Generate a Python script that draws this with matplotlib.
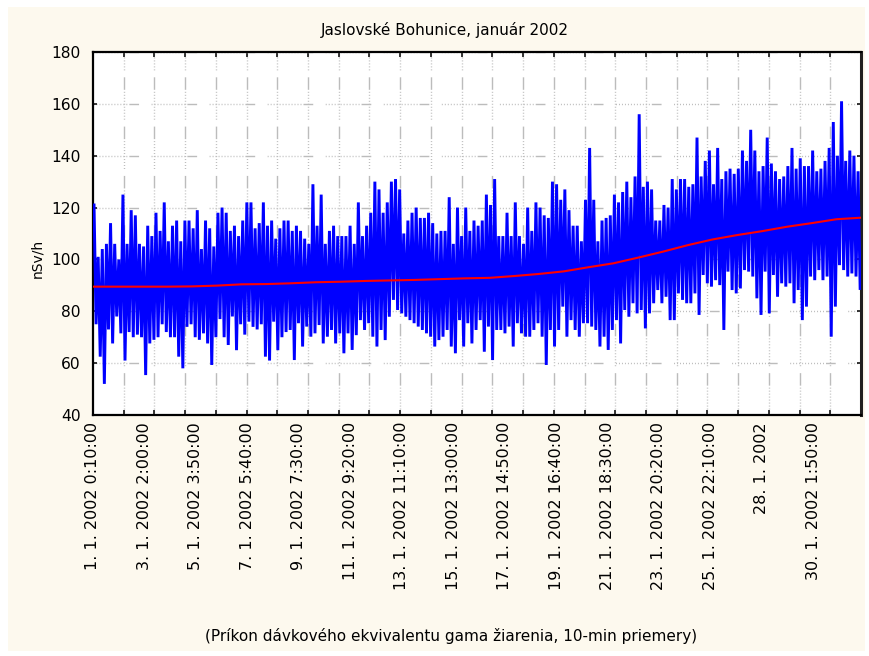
import numpy as np
import matplotlib
matplotlib.use("Agg")
import matplotlib.pyplot as plt
from matplotlib.patches import Rectangle

TITLE = "Jaslovské Bohunice, január 2002"
XLABEL = "(Príkon dávkového ekvivalentu gama žiarenia, 10-min priemery)"
YLABEL = "nSv/h"

upper = [
    121, 101, 104, 106, 114, 106, 100, 125, 106, 119, 117, 106, 105, 113, 109, 118,
    111, 122, 107, 113, 115, 107, 115, 115, 112, 119, 104, 115, 112, 105, 118, 120,
    118, 111, 113, 109, 115, 122, 122, 112, 114, 122, 113, 115, 108, 112, 115,
    115, 111, 113, 111, 108, 106, 129, 113, 125, 106, 111, 113, 109, 109, 109, 113,
    106, 122, 109, 113, 118, 130, 127, 118, 122, 130, 131, 127, 110, 115, 118, 120,
    116, 116, 118, 114, 110, 111, 111, 124, 106, 120, 109, 120, 111, 115,
    113, 115, 125, 121, 131, 109, 109, 118, 109, 122, 109, 106, 120, 111, 122, 120,
    117, 116, 130, 129, 123, 127, 119, 113, 113, 107, 123, 143, 123, 107, 115, 116,
    117, 125, 122, 126, 130, 124, 132, 156, 128, 130, 127, 115, 115, 121, 120,
    131, 127, 131, 131, 128, 129, 147, 132, 138, 142, 129, 143, 131, 134, 135, 133,
    135, 142, 138, 150, 142, 134, 136, 147, 137, 134, 131, 132, 136, 143, 135, 139,
    136, 136, 142, 134, 135, 138, 143, 153, 140, 161, 138, 142, 140, 134,
]
lower = [
    75, 62.5, 52, 73, 67.6, 78, 71.5, 61, 72, 70, 71, 70, 55.4, 67.6, 69, 70,
    75, 72, 70, 70, 62.5, 58, 74, 75, 70, 69, 71.5, 67.6, 59.3, 70, 77, 70,
    67, 78, 65, 75, 71, 76, 74, 73, 75, 62.5, 61, 76, 65, 70, 72,
    72.8, 61.2, 75.4, 66.4, 74.1, 70.2, 71.5, 74.7, 67.6, 70.2, 72.8, 67.6, 71.5, 63.8,
    71.5, 65.1, 70.8, 76.6, 72.8, 75.4, 70.2, 66.4, 72.8, 68.9, 77.9, 84.4, 80.5, 79.2,
    77.9, 76.6, 75.4, 74.1, 72.8, 71.5, 70.2, 66.4, 68.9, 70.2, 72.8, 66.4, 63.8, 76.6,
    66.4, 75.4, 67.6, 72.8,
    76.6, 64.4, 74.1, 61.2, 72.8, 72.8, 71.5, 74.1, 66.4, 75.4, 71.5, 70.2, 70.2, 72.8,
    75.4, 70.2, 59.3, 72.8, 66.4, 72.8, 81.8, 70.2, 76.6, 72.8, 70.2, 75.4, 75.4, 74.1,
    72.8, 66.4, 70.2, 65.1, 72.8, 76.6, 67.6, 80.5, 77.9, 83.1, 79.2, 80.5, 73.4, 79.2,
    83.1, 88.2, 83.1, 85.6, 76.6,
    76.6, 86.9, 84.4, 83.1, 83.1, 86.9, 78.6, 94, 90.8, 89.5, 92, 90.1, 72.8, 95.3,
    88.2, 86.9, 88.8, 95.9, 95.3, 93.4, 85, 78.6, 95.3, 79.2, 94, 85.6, 90.8, 89.5,
    90.8, 83.1, 88.2, 76.6, 81.8, 93.4, 92, 95.9, 92, 93.4, 70.2, 81.8, 97.8, 95.9,
    93.4, 94.6, 93.4, 88.8,
]

# smoothed trend (red), one value per day from 1. 1. to 1. 2.
trend = [
    89.5, 89.5, 89.5, 89.5, 89.6, 89.9, 90.4, 90.5, 90.8, 91.2, 91.4, 91.7, 91.9,
    92.1, 92.4, 92.7, 92.9, 93.6, 94.4, 95.4, 97.0, 98.5, 100.7, 103.0, 105.5,
    107.7, 109.4, 110.9, 112.6, 114.0, 115.5, 116.1,
]

# case numbers that carry a label (every 299 cases)
label_cases = [0, 299, 598, 897, 1196, 1495, 1794, 2093, 2392, 2691, 2990, 3289,
               3588, 3887, 4186]
label_texts = [
    "1. 1. 2002 0:10:00", "3. 1. 2002 2:00:00", "5. 1. 2002 3:50:00",
    "7. 1. 2002 5:40:00", "9. 1. 2002 7:30:00", "11. 1. 2002 9:20:00",
    "13. 1. 2002 11:10:00", "15. 1. 2002 13:00:00", "17. 1. 2002 14:50:00",
    "19. 1. 2002 16:40:00", "21. 1. 2002 18:30:00", "23. 1. 2002 20:20:00",
    "25. 1. 2002 22:10:00", "28. 1. 2002", "30. 1. 2002 1:50:00",
]

N_CASES = 4464
CASES_PER_BIN = 24
CASES_PER_DAY = 144

plt.rcParams["lines.scale_dashes"] = False
plt.rcParams["font.family"] = "DejaVu Sans"

BG = "#fdf9ee"
GRID = "#bcbcbc"

fig = plt.figure(figsize=(8.7, 6.56), dpi=100, facecolor="white")
fig.patches.append(Rectangle((8 / 870, 5 / 656), 857 / 870, 644 / 656,
                             transform=fig.transFigure, facecolor=BG,
                             edgecolor="none", zorder=-10))
ax = fig.add_axes([93 / 870, 1 - 415 / 656, 768 / 870, 363 / 656])
ax.set_facecolor("white")

# raw series: max and min of each 4-hour bin, alternating
idx = np.arange(len(upper))
xs = np.column_stack([idx * CASES_PER_BIN + 6, idx * CASES_PER_BIN + 18]).ravel()
ys = np.column_stack([upper, lower]).ravel()
ax.plot(xs, ys, color="#0000ff", lw=2.1, zorder=3, solid_joinstyle="miter")

tx = np.arange(len(trend)) * CASES_PER_DAY
ax.plot(tx, trend, color="#ff0000", lw=1.5, zorder=4)

ax.set_xlim(0, N_CASES - 1)
ax.set_ylim(40, 180)
ax.set_yticks(np.arange(40, 181, 20))

ax.set_xticks(label_cases)
ax.set_xticklabels(label_texts, rotation=90, fontsize=11.5)
ax.set_xticks(np.linspace(0, N_CASES - 1, 26)[1:-1], minor=True)
ax.tick_params(axis="x", which="major", length=0, pad=5)
ax.tick_params(axis="x", which="minor", direction="in", length=3.6, width=1.1,
               top=True, bottom=True)
ax.tick_params(axis="y", which="major", direction="in", length=2.6, width=1.1,
               left=True, right=True, labelsize=11.2, pad=9)

hpat = (0, (0.7, 1.45) * 12 + (7.0, 9.0))
vpat = (0, (0.7, 1.45) * 10 + (9.0, 5.0))
ax.grid(which="major", axis="y", color=GRID, lw=1.0, linestyle=hpat)
ax.grid(which="minor", axis="x", color=GRID, lw=1.0, linestyle=vpat)
ax.grid(which="major", axis="x", visible=False)
ax.set_axisbelow(True)

for side in ["left", "top", "bottom"]:
    ax.spines[side].set_linewidth(1.6)
ax.spines["right"].set_linewidth(2.2)
ax.spines["right"].set_color("#202020")

fig.text(445 / 870, 1 - 30 / 656, TITLE, ha="center", va="center", fontsize=11)
fig.text(451 / 870, 1 - 636 / 656, XLABEL, ha="center", va="center", fontsize=11)
fig.text(37 / 870, 1 - 258 / 656, YLABEL, ha="center", va="center",
         rotation=90, fontsize=10)

fig.savefig("out.png", dpi=100, facecolor="white")
